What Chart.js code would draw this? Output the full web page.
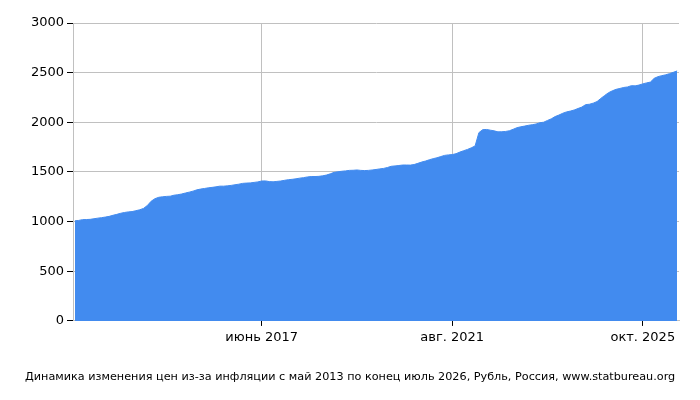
<!DOCTYPE html>
<html>
<head>
<meta charset="utf-8">
<script src="https://cdn.jsdelivr.net/npm/chart.js@4/dist/chart.umd.min.js"></script>
<style>
  html, body { margin: 0; padding: 0; background: #fff; }
  #wrap { width: 700px; height: 400px; }
</style>
</head>
<body>
<div id="wrap"><canvas id="chart" width="700" height="400"></canvas></div>
<script>
/* ---------- data ---------- */
const monthNames = ['янв.', 'февр.', 'март', 'апр.', 'май', 'июнь', 'июль', 'авг.', 'сент.', 'окт.', 'нояб.', 'дек.'];
const startYear  = 2013;
const startMonth = 4;   // май
const tickLabels = ['июнь 2017', 'авг. 2021', 'окт. 2025'];
const yTicks     = [0, 500, 1000, 1500, 2000, 2500, 3000];

// рублей, помесячно: май 2013 .. июль 2026
const prices = [
  1008, 1012, 1020, 1021, 1023, 1029, 1035, 1040, 1046, 1053,
  1064, 1073, 1084, 1092, 1098, 1101, 1110, 1119, 1133, 1162,
  1205, 1231, 1245, 1250, 1254, 1256, 1266, 1271, 1278, 1288,
  1297, 1307, 1320, 1328, 1334, 1340, 1345, 1350, 1357, 1357,
  1360, 1365, 1371, 1377, 1385, 1388, 1390, 1395, 1400, 1409,
  1410, 1403, 1401, 1405, 1409, 1416, 1422, 1426, 1431, 1438,
  1443, 1450, 1454, 1454, 1456, 1461, 1469, 1481, 1496, 1502,
  1507, 1511, 1516, 1517, 1520, 1516, 1514, 1516, 1520, 1525,
  1531, 1536, 1545, 1557, 1561, 1565, 1570, 1570, 1569, 1575,
  1587, 1600, 1610, 1623, 1634, 1643, 1655, 1667, 1672, 1675,
  1684, 1700, 1714, 1727, 1743, 1762, 1896, 1926, 1928, 1921,
  1914, 1904, 1905, 1908, 1915, 1930, 1946, 1955, 1962, 1970,
  1976, 1983, 1996, 2001, 2019, 2035, 2058, 2073, 2091, 2105,
  2113, 2124, 2139, 2153, 2178, 2182, 2193, 2209, 2241, 2270,
  2298, 2317, 2332, 2341, 2351, 2356, 2369, 2367, 2375, 2387,
  2397, 2405, 2443, 2460, 2470, 2478, 2490, 2503, 2517
];

const labels = prices.map((_, i) => {
  const m = startMonth + i;
  return monthNames[m % 12] + ' ' + (startYear + Math.floor(m / 12));
});

const caption = 'Динамика изменения цен из-за инфляции с май 2013 по конец июль 2026, Рубль, Россия, www.statbureau.org';

/* ---------- chart ---------- */
const font = { family: 'DejaVu Sans', size: 13 };

new Chart(document.getElementById('chart'), {
  type: 'line',
  data: {
    labels,
    datasets: [{
      data: prices,
      fill: 'origin',
      backgroundColor: '#428bef',
      borderColor: '#428bef',
      borderWidth: 1,
      pointRadius: 0,
      tension: 0
    }]
  },
  options: {
    responsive: false,
    animation: false,
    layout: { padding: { left: 25, right: 21, top: 23, bottom: 0 } },
    plugins: {
      legend: { display: false },
      tooltip: { enabled: false },
      title: {
        display: true,
        position: 'bottom',
        align: 'start',
        text: caption,
        color: '#000',
        font: { family: 'DejaVu Sans', size: 11.22, weight: 'normal' },
        padding: { top: 21, bottom: 16 }
      }
    },
    scales: {
      x: {
        offset: true,
        grid: { color: '#c0c0c0', tickColor: '#000', tickLength: 5, offset: false },
        border: { color: '#c0c0c0' },
        ticks: {
          autoSkip: false,
          maxRotation: 0,
          color: '#000',
          font,
          padding: 4,
          callback: (v, i) => tickLabels.includes(labels[i]) ? labels[i] : null
        }
      },
      y: {
        min: 0,
        max: 3000,
        afterBuildTicks: s => { s.ticks = yTicks.map(value => ({ value })); },
        afterFit: s => { s.width = 48; },
        grid: { color: '#c0c0c0', tickColor: '#000', tickLength: 6 },
        border: { color: '#c0c0c0' },
        ticks: { color: '#000', font, padding: 3, callback: v => String(v) }
      }
    }
  }
});
</script>
</body>
</html>
